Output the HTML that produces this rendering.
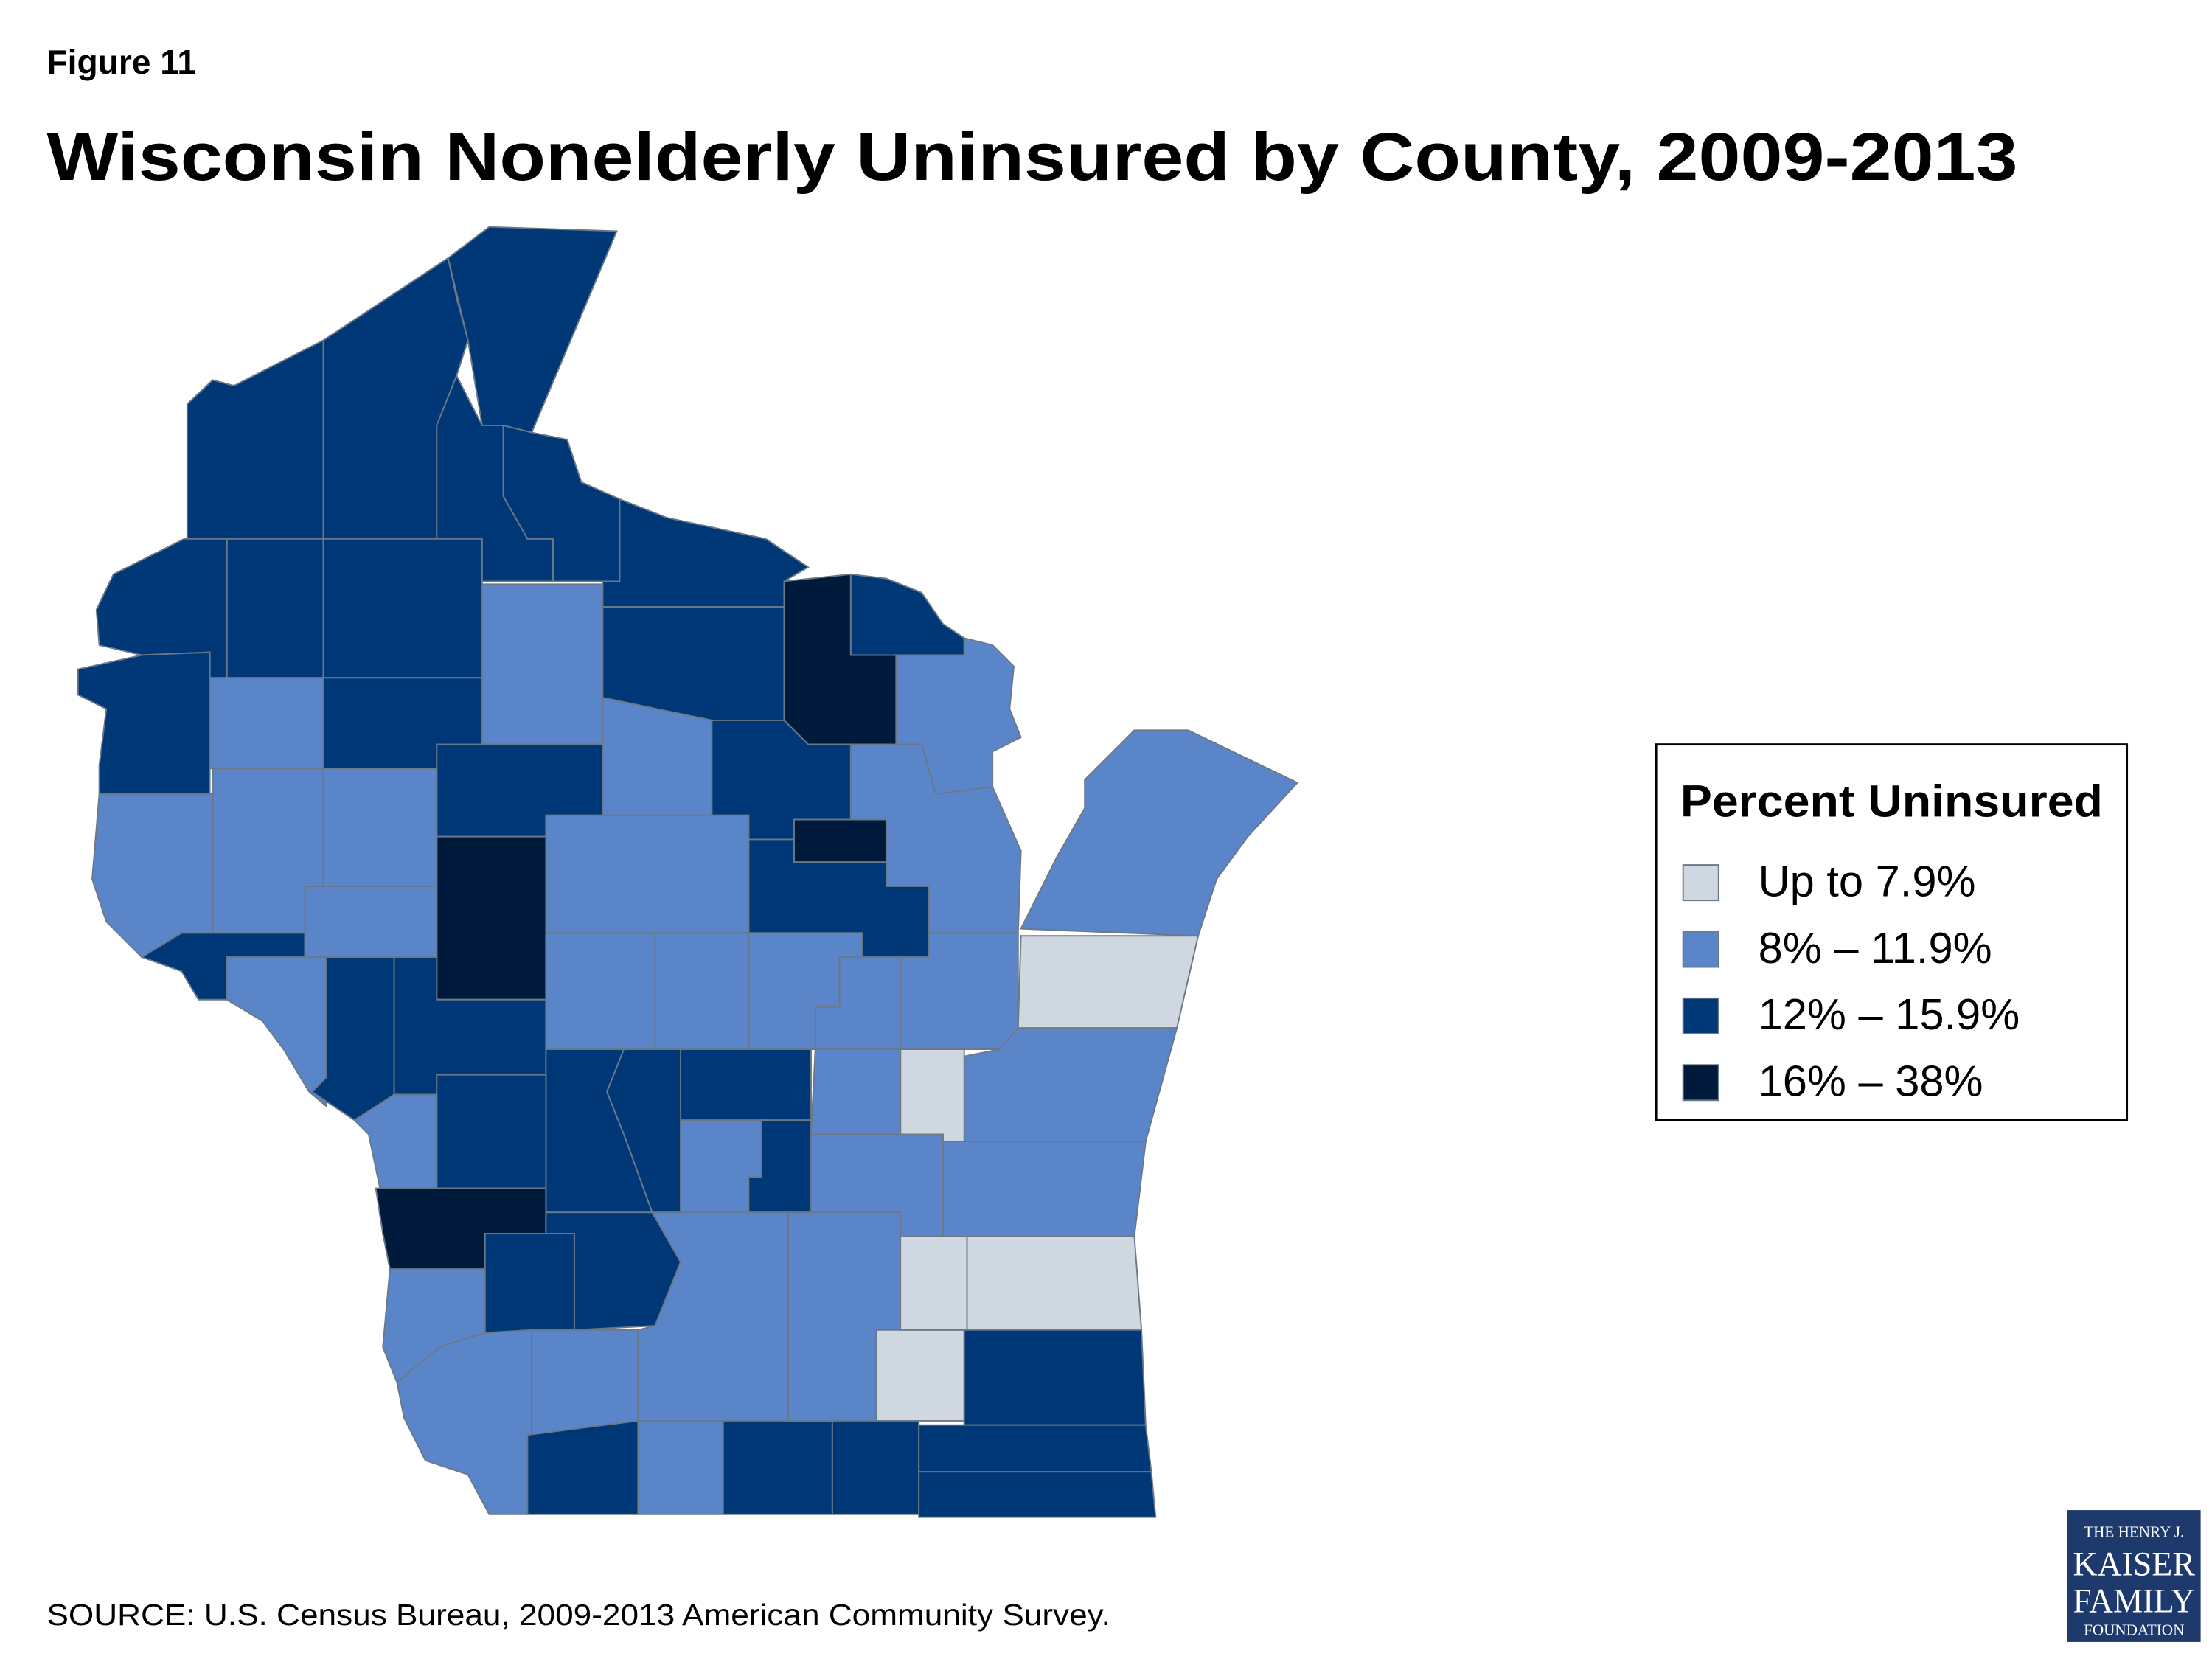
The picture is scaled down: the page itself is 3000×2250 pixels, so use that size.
<!DOCTYPE html>
<html><head><meta charset="utf-8"><style>
html,body{margin:0;padding:0;background:#fff;}
svg{display:block;}
text{font-family:"Liberation Sans",sans-serif;}
</style></head><body>
<svg width="3000" height="2250" viewBox="0 0 1560 1170" xmlns="http://www.w3.org/2000/svg">
<text x="33" y="52" font-size="24" font-weight="bold">Figure 11</text>
<text x="33" y="127" font-size="48" font-weight="bold" textLength="1390" lengthAdjust="spacingAndGlyphs">Wisconsin Nonelderly Uninsured by County, 2009-2013</text>
<g id="map"></g>
<g id="cities"></g>
<g>
<rect x="1168" y="525" width="332" height="265" fill="#fff" stroke="#000" stroke-width="1.5"/>
<text x="1185" y="576" font-size="32" font-weight="bold" textLength="298" lengthAdjust="spacingAndGlyphs">Percent Uninsured</text>
<g id="legend-items"></g>
</g>
<text x="33" y="1146" font-size="21" textLength="750" lengthAdjust="spacingAndGlyphs">SOURCE: U.S. Census Bureau, 2009-2013 American Community Survey.</text>
<g>
<rect x="1458" y="1065" width="94" height="93" fill="#1e3a6d"/>
<text x="1505" y="1084" font-size="11" fill="#fff" text-anchor="middle" style="font-family:'Liberation Serif',serif">THE HENRY J.</text>
<text x="1505" y="1111" font-size="24" fill="#fff" text-anchor="middle" style="font-family:'Liberation Serif',serif" textLength="86" lengthAdjust="spacingAndGlyphs">KAISER</text>
<text x="1505" y="1137" font-size="24" fill="#fff" text-anchor="middle" style="font-family:'Liberation Serif',serif" textLength="86" lengthAdjust="spacingAndGlyphs">FAMILY</text>
<text x="1505" y="1153" font-size="11" fill="#fff" text-anchor="middle" style="font-family:'Liberation Serif',serif">FOUNDATION</text>
</g>
<script>
const categoryLabels=["Up to 7.9%","8% – 11.9%","12% – 15.9%","16% – 38%"];
const categoryColors=["#cfd8e0","#5a86c9","#003877","#001a3c"];
const countyNames=["Douglas","Bayfield","Ashland","IronWest","Iron","Vilas","Forest","Florence","Oneida","Price","Sawyer","Washburn","Burnett","Polk","Barron","Rusk","Taylor","Lincoln","Langlade","Marinette","Menominee","Oconto","Shawano","Door","Kewaunee","Brown","Outagamie","Manitowoc","Calumet","Winnebago","FondDuLac","Sheboygan","Waupaca","Marathon","Clark","Chippewa","EauClaire","Dunn","StCroix","Pierce","Buffalo","Trempealeau","Jackson","Wood","Portage","Waushara","GreenLake","Marquette","Adams","Juneau","Monroe","LaCrosse","Vernon","Sauk","Richland","Crawford","Grant","Iowa","Lafayette","DaneColumbia","Green","Rock","Dodge","Jefferson","Washington","Ozaukee","Milwaukee","Walworth","Racine","Kenosha"];
const countyCategory=[2,2,2,2,2,2,3,2,2,1,2,2,2,2,1,2,2,1,2,1,3,1,2,1,0,1,1,1,0,1,1,1,1,1,3,1,1,1,1,2,1,2,2,1,1,2,1,2,2,2,2,1,3,2,2,1,1,1,2,1,1,2,1,0,0,0,2,2,2,2];
const shapes=[
"132,285 150,268 165,272 228,240 228,380 132,380",
"228,240 316,182 322,210 330,240 322,265 308,300 308,380 228,380",
"316,182 345,160 435,163 375,305 355,300 340,300 330,240",
"308,380 308,300 322,265 340,300 355,300 355,350 372,380 390,380 390,410 340,410",
"355,300 375,305 400,310 410,340 437,352 437,410 390,410 390,380 372,380 355,350",
"437,352 470,365 540,380 570,400 553,410 553,428 425,428 425,410 437,410",
"553,410 600,405 600,462 632,462 632,525 570,525 553,508",
"600,405 625,408 650,418 665,440 680,450 680,462 600,462",
"425,428 553,428 553,508 502,508 425,492",
"340,412 425,412 425,525 340,525",
"228,380 340,380 340,478 228,478",
"160,380 228,380 228,478 160,478",
"80,405 130,380 160,380 160,478 148,478 148,460 100,462 70,455 68,430",
"100,462 148,460 148,560 70,560 70,540 75,500 55,490 55,472",
"148,478 228,478 228,542 148,542",
"228,478 340,478 340,525 308,525 308,542 228,542",
"308,525 425,525 425,575 385,575 385,590 308,590",
"425,492 502,508 502,575 425,575",
"502,508 553,508 570,525 600,525 600,578 560,578 560,592 528,592 528,575 502,575",
"632,462 680,462 680,450 700,455 715,470 712,500 720,520 700,530 700,555 660,560 650,525 632,525",
"560,578 625,578 625,608 560,608",
"600,525 650,525 660,560 700,555 720,600 718,658 655,658 655,625 625,625 625,578 600,578",
"528,592 560,592 560,608 625,608 625,625 655,625 655,675 608,675 608,658 528,658",
"720,655 745,605 765,570 765,550 800,515 838,515 915,552 880,590 858,620 845,660",
"720,660 845,660 830,725 718,725",
"655,658 718,658 718,725 705,740 635,740 635,675 655,675",
"592,675 635,675 635,740 575,740 575,710 592,710",
"718,725 830,725 808,805 680,805 680,745 705,740",
"635,740 680,740 680,805 635,805",
"575,740 635,740 635,805 665,805 665,800 572,800",
"572,800 665,800 665,872 635,872 635,855 572,855",
"665,805 808,805 800,872 665,872",
"528,658 608,658 608,675 592,675 592,710 575,710 575,740 528,740",
"385,575 528,575 528,658 385,658",
"308,590 385,590 385,705 308,705",
"228,542 308,542 308,625 228,625",
"215,625 308,625 308,675 215,675",
"150,560 150,542 228,542 228,625 215,625 215,658 150,658",
"70,560 150,560 150,658 128,658 125,680 100,675 75,650 65,620",
"100,675 128,658 215,658 215,675 160,675 160,705 140,705 128,685",
"160,675 230,675 230,780 218,770 200,740 185,720 160,705",
"230,675 278,675 278,772 250,790 220,770 230,760",
"278,675 308,675 308,705 385,705 385,758 308,758 308,772 278,772",
"385,658 462,658 462,740 385,740",
"462,658 528,658 528,740 462,740",
"480,740 572,740 572,790 480,790",
"480,790 540,790 540,855 480,855",
"537,790 572,790 572,855 528,855 528,830 537,830",
"385,740 440,740 428,770 440,800 460,855 385,855",
"440,740 480,740 480,855 460,855 440,800 428,770",
"308,758 385,758 385,838 308,838",
"250,790 278,772 308,772 308,838 268,838 260,800",
"265,838 385,838 385,870 342,870 342,895 275,895 270,870",
"385,855 460,855 480,890 462,935 405,938 405,870 385,870",
"342,870 405,870 405,938 375,938 342,940",
"275,895 342,895 342,940 310,950 280,975 270,950",
"280,975 310,950 342,940 375,938 375,1012 372,1068 345,1068 330,1040 300,1030 285,1000",
"375,938 450,938 450,1002 375,1012",
"372,1012 450,1002 450,1068 372,1068",
"450,938 462,935 480,890 460,855 556,855 556,1002 450,1002",
"450,1002 510,1002 510,1068 450,1068",
"510,1002 587,1002 587,1068 510,1068",
"556,855 635,855 635,938 618,938 618,1002 556,1002",
"618,938 680,938 680,1002 618,1002",
"635,872 682,872 682,938 635,938",
"682,872 800,872 805,938 682,938",
"680,938 805,938 808,1005 680,1005",
"587,1002 648,1002 648,1068 587,1068",
"648,1005 808,1005 812,1038 648,1038",
"648,1038 812,1038 815,1070 648,1070"];
const NS="http://www.w3.org/2000/svg";
const map=document.getElementById('map');
countyNames.forEach((n,i)=>{
 const p=document.createElementNS(NS,'polygon');
 p.setAttribute('points',shapes[i]);
 p.setAttribute('fill',categoryColors[countyCategory[i]]);
 p.setAttribute('stroke','#6a7888');
 p.setAttribute('stroke-width','1');
 
 
 map.appendChild(p);
});
const li=document.getElementById('legend-items');
categoryLabels.forEach((l,i)=>{
 const y=610+i*47;
 const r=document.createElementNS(NS,'rect');
 r.setAttribute('x',1187);r.setAttribute('y',y);r.setAttribute('width',25);r.setAttribute('height',25);
 r.setAttribute('fill',categoryColors[i]);r.setAttribute('stroke','#6a7888');
 
 
 li.appendChild(r);
 const t=document.createElementNS(NS,'text');
 t.setAttribute('x',1240);t.setAttribute('y',y+22);t.setAttribute('font-size','31');
 t.textContent=l;
 
 
 li.appendChild(t);
});
const cities=document.getElementById('cities');
cities.innerHTML=
'<text x="78" y="623" font-size="31" font-weight="bold" fill="#fff">Eau Claire</text>'+
'<circle cx="230" cy="632" r="5" fill="#fff"/>'+
'<text x="540" y="726" font-size="31" font-weight="bold" fill="#fff">Green Bay</text>'+
'<circle cx="690" cy="688" r="5" fill="#fff"/>'+
'<text x="432" y="948" font-size="35" font-weight="bold" fill="#fff">Madison</text>'+
'<text x="508" y="975" font-size="28" fill="#e8141c" text-anchor="middle">★</text>'+
'<text x="808" y="959" font-size="31" font-weight="bold" fill="#000">Milwaukee</text>'+
'<circle cx="796" cy="955" r="5" fill="#fff"/>';
</script>
</svg>
</body></html>
